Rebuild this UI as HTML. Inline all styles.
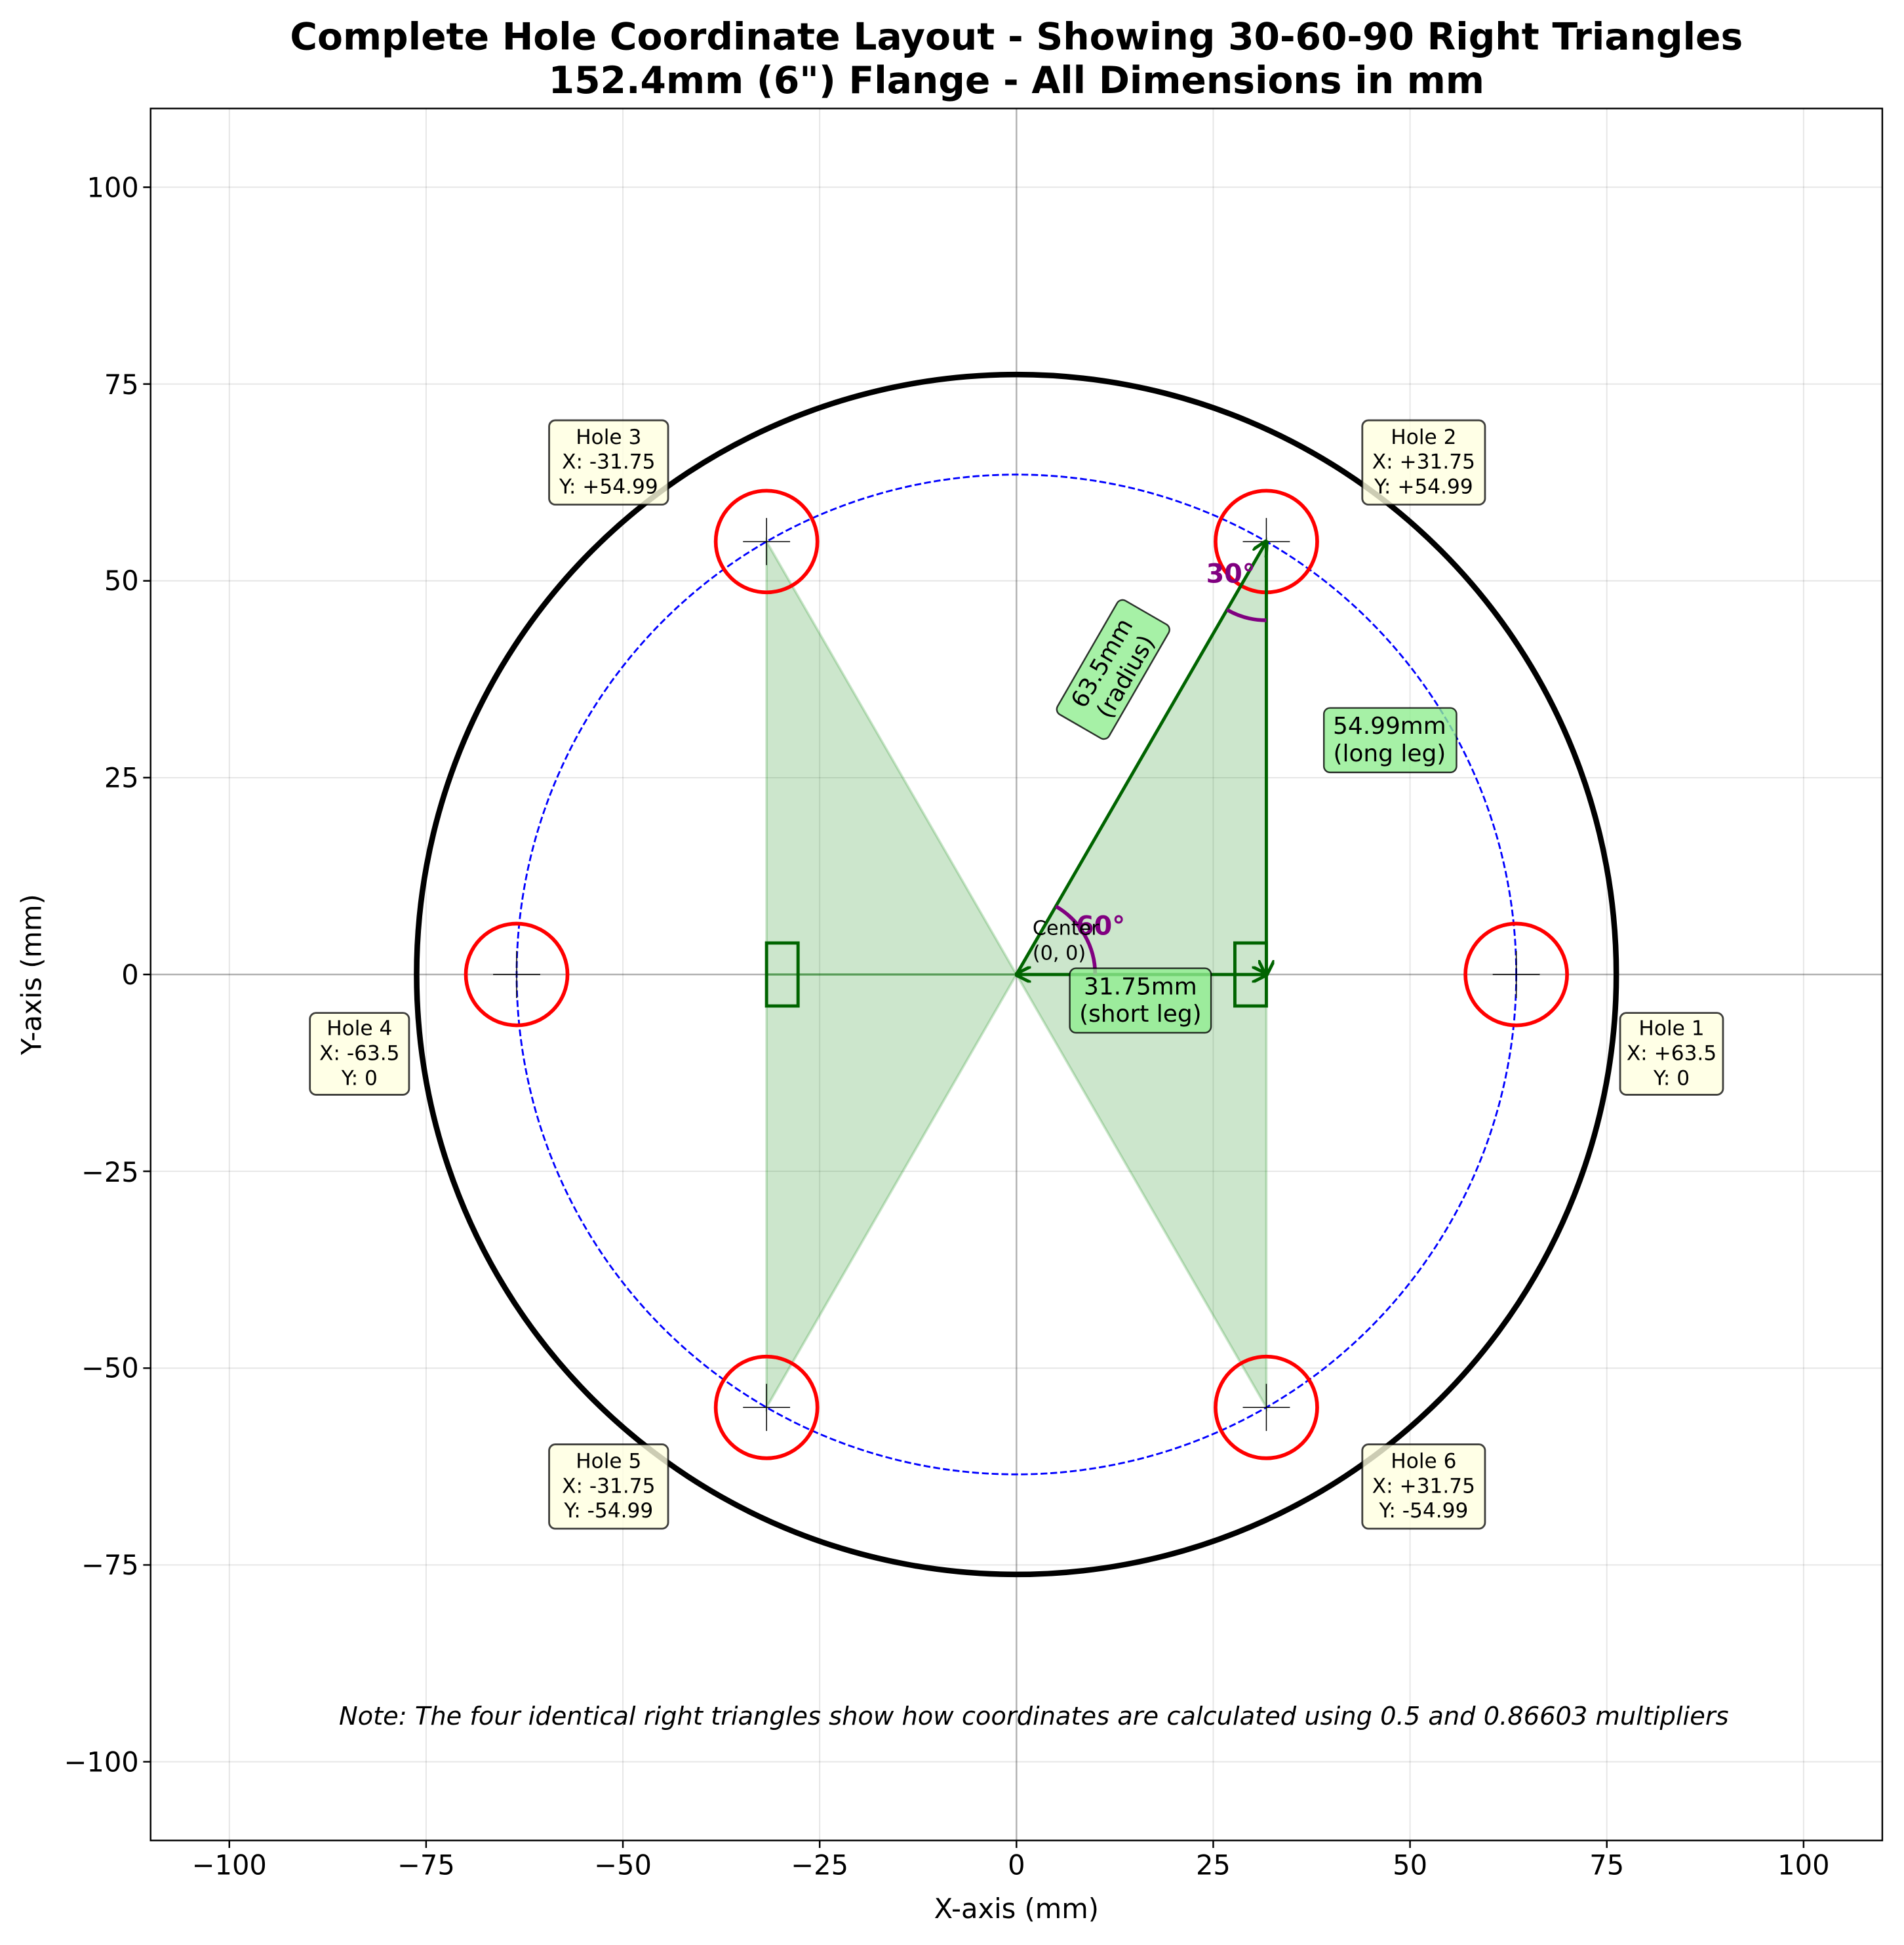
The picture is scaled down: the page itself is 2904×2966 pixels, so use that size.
<!DOCTYPE html>
<html><head><meta charset="utf-8"><style>
html,body{margin:0;padding:0;background:#fff}
svg{display:block}
text{font-family:"DejaVu Sans","Liberation Sans",sans-serif}
</style></head><body>
<svg width="2904" height="2966" viewBox="0 0 1536 1568.8" xmlns="http://www.w3.org/2000/svg">
<defs>
<clipPath id="ax"><rect x="121.5" y="87.5" width="1397" height="1397"/></clipPath>
<marker id="ah" viewBox="0 0 10 10" refX="9" refY="5" markerWidth="5" markerHeight="5" orient="auto-start-reverse"><path d="M0,0 L10,5 L0,10" fill="none" stroke="#006400" stroke-width="2"/></marker>
</defs>
<rect width="1536" height="1569" fill="#fff"/>
<g stroke="#000" stroke-opacity="0.1" stroke-width="1">
<line x1="185" y1="87.5" x2="185" y2="1484.5"/><line x1="343.75" y1="87.5" x2="343.75" y2="1484.5"/><line x1="502.5" y1="87.5" x2="502.5" y2="1484.5"/><line x1="661.25" y1="87.5" x2="661.25" y2="1484.5"/><line x1="978.75" y1="87.5" x2="978.75" y2="1484.5"/><line x1="1137.5" y1="87.5" x2="1137.5" y2="1484.5"/><line x1="1296.25" y1="87.5" x2="1296.25" y2="1484.5"/><line x1="1455" y1="87.5" x2="1455" y2="1484.5"/>
<line x1="121.5" y1="151" x2="1518.5" y2="151"/><line x1="121.5" y1="309.75" x2="1518.5" y2="309.75"/><line x1="121.5" y1="468.5" x2="1518.5" y2="468.5"/><line x1="121.5" y1="627.25" x2="1518.5" y2="627.25"/><line x1="121.5" y1="944.75" x2="1518.5" y2="944.75"/><line x1="121.5" y1="1103.5" x2="1518.5" y2="1103.5"/><line x1="121.5" y1="1262.25" x2="1518.5" y2="1262.25"/><line x1="121.5" y1="1421" x2="1518.5" y2="1421"/>
</g>
<g stroke="#000" stroke-opacity="0.3" stroke-width="1.3">
<line x1="820" y1="87.5" x2="820" y2="1484.5"/><line x1="121.5" y1="786" x2="1518.5" y2="786"/>
</g>
<g clip-path="url(#ax)">
<g fill="#008000" fill-opacity="0.2" stroke="#008000" stroke-opacity="0.2" stroke-width="2">
<polygon points="820,786 1021.6,436.8 1021.6,786"/>
<polygon points="820,786 1021.6,1135.2 1021.6,786"/>
<polygon points="820,786 618.4,436.8 618.4,786"/>
<polygon points="820,786 618.4,1135.2 618.4,786"/>
</g>
<circle cx="820" cy="786" r="483.9" fill="none" stroke="#000" stroke-width="4.5"/>
<circle cx="820" cy="786" r="403.2" fill="none" stroke="#0000ff" stroke-width="1.5" stroke-dasharray="5.5,2.4"/>
<g fill="none" stroke="#ff0000" stroke-width="3">
<circle cx="1223.2" cy="786" r="41"/><circle cx="1021.6" cy="436.8" r="41"/><circle cx="618.4" cy="436.8" r="41"/>
<circle cx="416.8" cy="786" r="41"/><circle cx="618.4" cy="1135.2" r="41"/><circle cx="1021.6" cy="1135.2" r="41"/>
</g>
<g stroke="#000" stroke-width="0.8">
<path d="M1204.2,786h38M1223.2,767v38 M1002.6,436.8h38M1021.6,417.8v38 M599.4,436.8h38M618.4,417.8v38 M397.8,786h38M416.8,767v38 M599.4,1135.2h38M618.4,1116.2v38 M1002.6,1135.2h38M1021.6,1116.2v38"/>
</g>
<g fill="none" stroke="#006400" stroke-width="2.6">
<rect x="996.2" y="760.6" width="25.4" height="50.8"/>
<rect x="618.4" y="760.6" width="25.4" height="50.8"/>
<line x1="820" y1="786" x2="1021.6" y2="436.8" marker-end="url(#ah)"/>
<line x1="1021.6" y1="436.8" x2="1021.6" y2="786" marker-end="url(#ah)"/>
<line x1="820" y1="786" x2="1021.6" y2="786" marker-start="url(#ah)" marker-end="url(#ah)"/>
</g>
<g fill="none" stroke="#800080" stroke-width="3">
<path d="M883.5,786 A63.5,63.5 0 0 0 851.75,731"/>
<path d="M989.85,491.8 A63.5,63.5 0 0 0 1021.6,500.3"/>
</g>
</g>
<text x="973" y="470" font-size="21" font-weight="bold" fill="#800080">30°</text>
<text x="868" y="754" font-size="21" font-weight="bold" fill="#800080">60°</text>
<text x="833" y="754" font-size="16">Center</text>
<text x="833" y="774" font-size="16">(0, 0)</text>
<g transform="translate(898,540) rotate(-60)">
<rect x="-53" y="-24" width="106" height="48" rx="5" fill="#90ee90" fill-opacity="0.8" stroke="#000" stroke-opacity="0.8" stroke-width="1.3"/>
<text x="0" y="-4" font-size="19" text-anchor="middle">63.5mm</text>
<text x="0" y="18" font-size="19" text-anchor="middle">(radius)</text>
</g>
<rect x="1068" y="571" width="107" height="52" rx="5" fill="#90ee90" fill-opacity="0.8" stroke="#000" stroke-opacity="0.8" stroke-width="1.3"/>
<text x="1121" y="592" font-size="19" text-anchor="middle">54.99mm</text>
<text x="1121" y="614" font-size="19" text-anchor="middle">(long leg)</text>
<rect x="863" y="781" width="114" height="52" rx="5" fill="#90ee90" fill-opacity="0.8" stroke="#000" stroke-opacity="0.8" stroke-width="1.3"/>
<text x="920" y="802" font-size="19" text-anchor="middle">31.75mm</text>
<text x="920" y="824" font-size="19" text-anchor="middle">(short leg)</text>
<g font-size="16.5" text-anchor="middle">
<rect x="1307" y="817" width="83" height="66" rx="5" fill="#ffffe0" fill-opacity="0.8" stroke="#000" stroke-opacity="0.75" stroke-width="1.5"/>
<text x="1348.5" y="835">Hole 1</text><text x="1348.5" y="855">X: +63.5</text><text x="1348.5" y="875">Y: 0</text>
<rect x="1099" y="339" width="99" height="68" rx="5" fill="#ffffe0" fill-opacity="0.8" stroke="#000" stroke-opacity="0.75" stroke-width="1.5"/>
<text x="1148.5" y="358">Hole 2</text><text x="1148.5" y="378">X: +31.75</text><text x="1148.5" y="398">Y: +54.99</text>
<rect x="443" y="339" width="96" height="68" rx="5" fill="#ffffe0" fill-opacity="0.8" stroke="#000" stroke-opacity="0.75" stroke-width="1.5"/>
<text x="491" y="358">Hole 3</text><text x="491" y="378">X: -31.75</text><text x="491" y="398">Y: +54.99</text>
<rect x="250" y="817" width="80" height="66" rx="5" fill="#ffffe0" fill-opacity="0.8" stroke="#000" stroke-opacity="0.75" stroke-width="1.5"/>
<text x="290" y="835">Hole 4</text><text x="290" y="855">X: -63.5</text><text x="290" y="875">Y: 0</text>
<rect x="443" y="1165" width="96" height="68" rx="5" fill="#ffffe0" fill-opacity="0.8" stroke="#000" stroke-opacity="0.75" stroke-width="1.5"/>
<text x="491" y="1184">Hole 5</text><text x="491" y="1204">X: -31.75</text><text x="491" y="1224">Y: -54.99</text>
<rect x="1099" y="1165" width="99" height="68" rx="5" fill="#ffffe0" fill-opacity="0.8" stroke="#000" stroke-opacity="0.75" stroke-width="1.5"/>
<text x="1148.5" y="1184">Hole 6</text><text x="1148.5" y="1204">X: +31.75</text><text x="1148.5" y="1224">Y: -54.99</text>
</g>
<text x="834" y="1391" font-size="20.3" font-style="italic" text-anchor="middle">Note: The four identical right triangles show how coordinates are calculated using 0.5 and 0.86603 multipliers</text>
<rect x="121.5" y="87.5" width="1397" height="1397" fill="none" stroke="#000" stroke-width="1.3"/>
<g stroke="#000" stroke-width="1.3">
<path d="M185,1484.5v6M343.75,1484.5v6M502.5,1484.5v6M661.25,1484.5v6M820,1484.5v6M978.75,1484.5v6M1137.5,1484.5v6M1296.25,1484.5v6M1455,1484.5v6"/>
<path d="M121.5,151h-6M121.5,309.75h-6M121.5,468.5h-6M121.5,627.25h-6M121.5,786h-6M121.5,944.75h-6M121.5,1103.5h-6M121.5,1262.25h-6M121.5,1421h-6"/>
</g>
<g font-size="22" text-anchor="middle">
<text x="185" y="1512">−100</text><text x="343.75" y="1512">−75</text><text x="502.5" y="1512">−50</text><text x="661.25" y="1512">−25</text><text x="820" y="1512">0</text><text x="978.75" y="1512">25</text><text x="1137.5" y="1512">50</text><text x="1296.25" y="1512">75</text><text x="1455" y="1512">100</text>
</g>
<g font-size="22" text-anchor="end">
<text x="112" y="159">100</text><text x="112" y="318">75</text><text x="112" y="476">50</text><text x="112" y="635">25</text><text x="112" y="794">0</text><text x="112" y="953">−25</text><text x="112" y="1111">−50</text><text x="112" y="1270">−75</text><text x="112" y="1429">−100</text>
</g>
<text x="820" y="1547" font-size="22" text-anchor="middle">X-axis (mm)</text>
<text transform="translate(33,786) rotate(-90)" font-size="22" text-anchor="middle">Y-axis (mm)</text>
<text x="820" y="40" font-size="30" font-weight="bold" text-anchor="middle">Complete Hole Coordinate Layout - Showing 30-60-90 Right Triangles</text>
<text x="820" y="75" font-size="30" font-weight="bold" text-anchor="middle">152.4mm (6") Flange - All Dimensions in mm</text>
</svg>
</body></html>
